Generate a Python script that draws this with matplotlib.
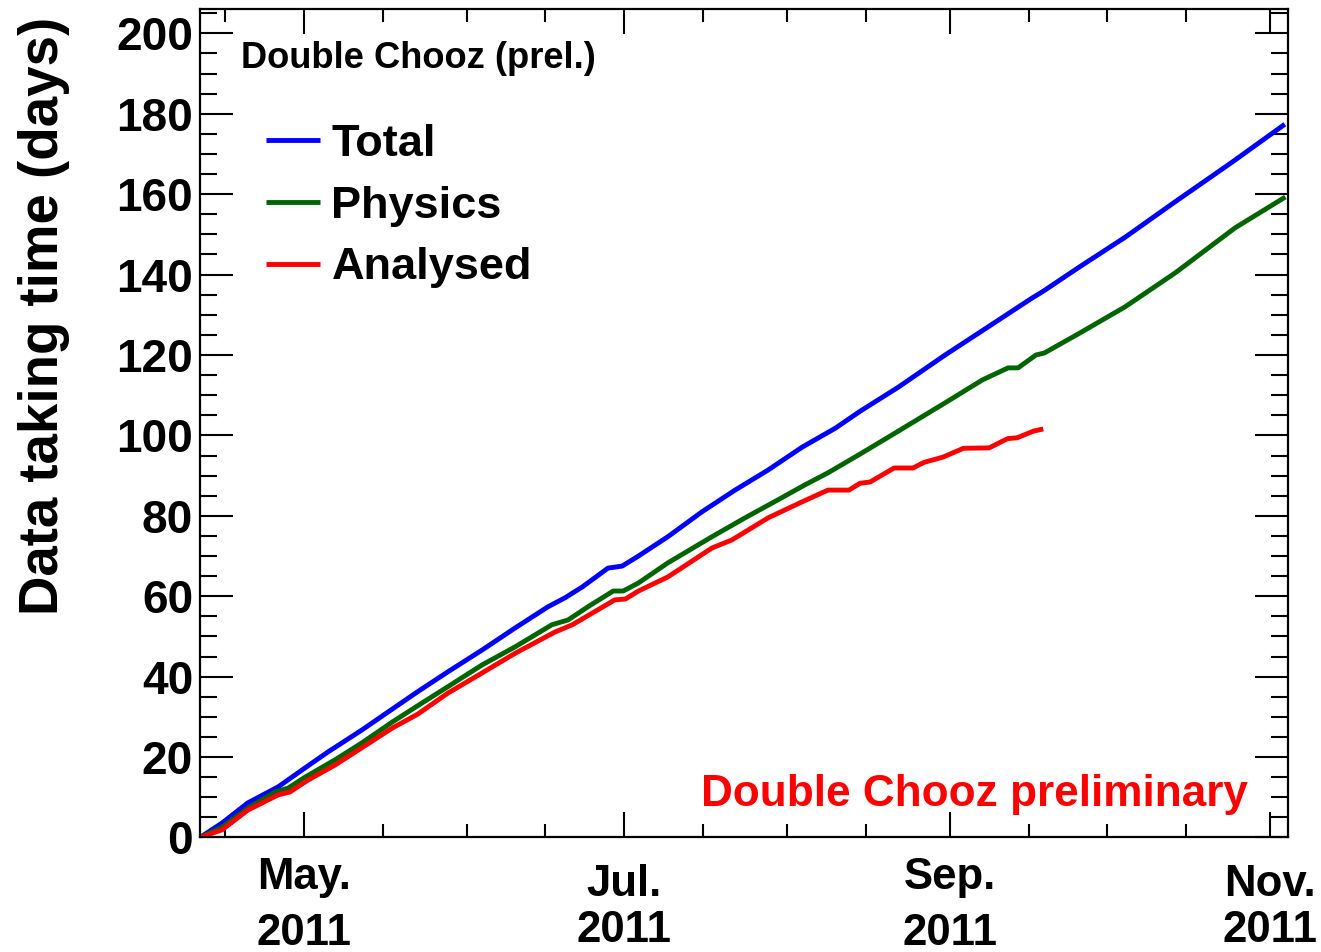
import datetime as dt

import matplotlib
matplotlib.use("Agg")
import matplotlib.pyplot as plt
import matplotlib.dates as mdates
from matplotlib.ticker import MultipleLocator

# Run start; all day offsets below are counted from here
START = dt.datetime(2011, 4, 11, 5)
X_SPAN_DAYS = 207.2
Y_MAX = 206

total_day = [0, 4.2, 9.1, 14.9, 17.5, 20, 24.4, 30.8, 35.8, 41.5, 47.2, 53.7, 60,
             66.3, 69.5, 72.8, 77.7, 80.4, 83.5, 89.1, 95.6, 101.9, 108.2, 114.7,
             121, 125.7, 133, 141.9, 150.1, 158.5, 160.4, 167.6, 176.2, 185.7,
             196.6, 206.6]
total_val = [0, 3.6, 8.6, 12.6, 15.0, 17.3, 21.3, 26.7, 31.2, 36.3, 41.2, 46.6, 52.1,
             57.4, 59.6, 62.3, 67.0, 67.5, 70.0, 74.8, 81.0, 86.4, 91.4, 97.1,
             101.8, 106.0, 112.0, 120.0, 127.0, 134.2, 135.7, 142.0, 149.3, 158.1,
             168.0, 177.4]

physics_day = [0, 4.2, 9.1, 14.3, 16.8, 20, 25.7, 30.8, 36.6, 41.5, 47.2, 53.7, 60,
               67, 70.1, 73.9, 78.7, 80.6, 83.5, 89.1, 97.5, 103.8, 110.1, 115.2,
               119.6, 125.5, 132.4, 141.9, 149, 153.9, 155.8, 159.2, 160.8, 167.2,
               176.2, 185.7, 197.1, 206.7]
physics_val = [0, 2.6, 7.3, 11.3, 12.3, 15.0, 19.3, 23.5, 28.7, 32.8, 37.5, 42.9, 47.4,
               52.9, 54.1, 57.4, 61.3, 61.3, 63.3, 68.3, 74.8, 79.5, 84.0, 87.7,
               90.7, 95.2, 100.6, 108.1, 113.8, 116.8, 116.8, 120.0, 120.5, 125.2,
               132.0, 140.4, 151.6, 159.3]

analysed_day = [0, 4.2, 9.1, 14.9, 17.1, 20.6, 25.7, 30.8, 36.6, 41.5, 47.2, 53.7, 60,
                67.6, 70.9, 74.7, 79, 81, 83.5, 89.1, 97.5, 101.3, 108.2, 114.7,
                119.6, 123.6, 125.7, 127.6, 132.2, 135.8, 137.9, 141.5, 145.4, 150.3,
                153.8, 155.6, 158.8, 160.6]
analysed_val = [0, 1.9, 6.8, 10.6, 11.3, 14.3, 18.0, 22.3, 27.2, 30.7, 35.9, 40.9, 45.8,
                51.1, 52.9, 55.8, 59.1, 59.3, 61.3, 64.8, 72.0, 74.0, 79.5, 83.5,
                86.4, 86.4, 88.1, 88.4, 91.9, 91.9, 93.3, 94.6, 96.8, 96.9,
                99.2, 99.4, 101.1, 101.6]

series_labels = ["Total", "Physics", "Analysed"]
series_colors = ["#0000ff", "#006400", "#ff0000"]

FONT = "Liberation Sans"
plt.rcParams["font.family"] = [FONT, "DejaVu Sans"]
plt.rcParams["font.weight"] = "bold"


def as_dates(days):
    return [START + dt.timedelta(days=d) for d in days]


fig = plt.figure(figsize=(13.21, 9.52), dpi=100)
ax = fig.add_axes([0.1514, 0.1203, 0.8236, 0.8700])

for days, vals, lab, col in zip([total_day, physics_day, analysed_day],
                                [total_val, physics_val, analysed_val],
                                series_labels, series_colors):
    ax.plot(as_dates(days), vals, color=col, lw=3.5, label=lab,
            solid_joinstyle="round", solid_capstyle="butt")

ax.set_xlim(START, START + dt.timedelta(days=X_SPAN_DAYS))
ax.set_ylim(0, Y_MAX)

# time axis: labelled ticks every two months, small ticks on the 1st and 16th
ax.xaxis.set_major_locator(mdates.MonthLocator(bymonth=[5, 7, 9, 11]))
ax.xaxis.set_minor_locator(mdates.DayLocator(bymonthday=[1, 16]))
ax.xaxis.set_major_formatter(mdates.DateFormatter("%b.\n%Y"))
ax.yaxis.set_major_locator(MultipleLocator(20))
ax.yaxis.set_minor_locator(MultipleLocator(5))

for sp in ax.spines.values():
    sp.set_linewidth(1.6)

ax.tick_params(which="both", direction="in", top=True, right=True, width=1.5)
ax.tick_params(axis="x", which="major", length=18, labelsize=31.5, pad=14)
ax.tick_params(axis="x", which="minor", length=9.5)
ax.tick_params(axis="y", which="major", length=23.8, labelsize=33, pad=5)
ax.tick_params(axis="y", which="minor", length=12)

# ROOT-style labels: a first line with descenders sits higher
fig.canvas.draw()
for tick, loc in zip(ax.xaxis.get_major_ticks(), ax.xaxis.get_majorticklocs()):
    name = mdates.num2date(loc).strftime("%b")
    lbl = tick.label1
    lbl.set_fontweight("bold")
    if any(c in "gjpqy" for c in name):
        tick.set_pad(14)
        lbl.set_linespacing(1.47)
    else:
        tick.set_pad(19)
        lbl.set_linespacing(1.17)

for lbl in ax.get_yticklabels():
    lbl.set_fontweight("bold")

ax.set_ylabel("Data taking time (days)", fontsize=39.3, fontweight="bold")
ax.yaxis.set_label_coords(-0.1195, 0.6297)

ax.text(0.0377, 0.929, "Double Chooz (prel.)", transform=ax.transAxes,
        fontsize=26.2, fontweight="bold", ha="left", va="baseline")
ax.text(0.712, 0.038, "Double Chooz preliminary", transform=ax.transAxes,
        fontsize=31.8, fontweight="bold", color="#ff0000", ha="center", va="baseline")

ax.legend(loc="upper left", bbox_to_anchor=(0.0607, 0.8615), frameon=False,
          borderaxespad=0, borderpad=0, handlelength=1.2, handletextpad=0.25,
          labelspacing=0.46, prop={"family": FONT, "weight": "bold", "size": 32.5})

fig.savefig("out.png", dpi=100)
